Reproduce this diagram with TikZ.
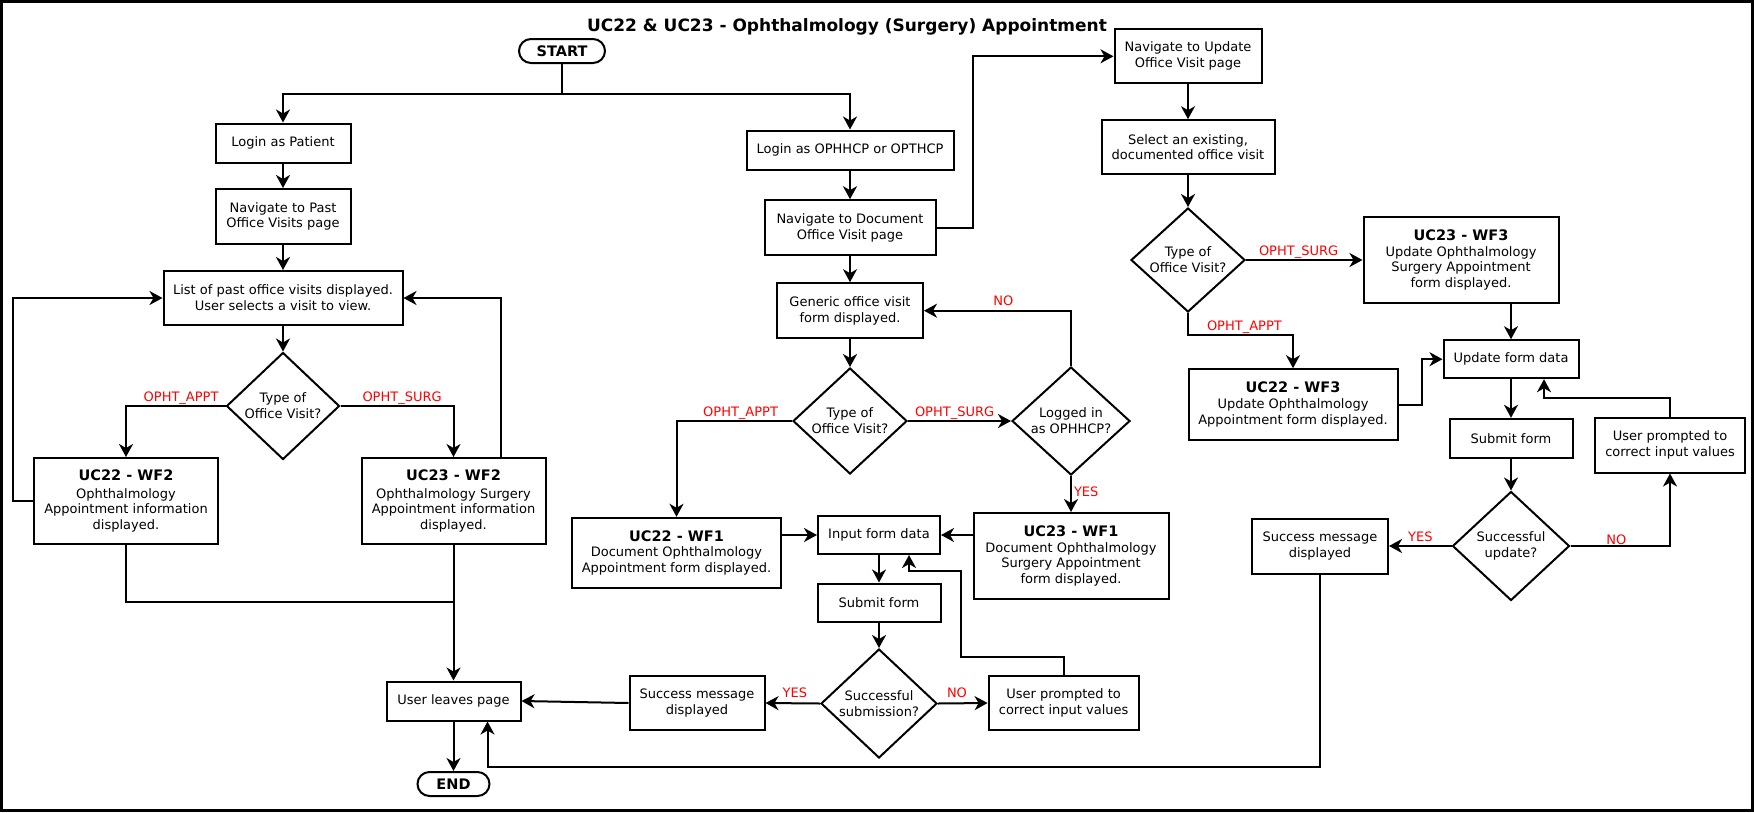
\documentclass[tikz,border=0pt]{standalone}
\usepackage{fontspec}
\setmainfont{DejaVu Sans}
\usetikzlibrary{arrows.meta}
\usetikzlibrary{shapes.geometric}
\newcommand{\wfhead}[1]{{\fontsize{14.5}{17}\selectfont\bfseries #1}}

\begin{document}
\begin{tikzpicture}[x=1pt,y=-1pt,->,>={Stealth[length=13pt,width=14pt,inset=4pt]},line width=2pt,
    font=\fontsize{13}{15.8}\selectfont,
    box node/.style={rectangle,draw,align=center,inner sep=0pt},
    choice node/.style={diamond,draw,align=center,inner sep=0pt,aspect=1},
    term node/.style={rectangle,draw,rounded corners=12pt,inner sep=0pt,minimum width=86pt,minimum height=24pt,font=\fontsize{14.5}{17}\selectfont\bfseries},
    lbl node/.style={inner sep=0pt,text=red,font=\fontsize{13}{14}\selectfont}]
    \useasboundingbox (0,0) rectangle (1754,812);
    \draw[-,line width=3pt] (1.5,1.5) rectangle (1752.5,810.5);
    \node (title) at (847,27) {\fontsize{17}{20}\selectfont\bfseries UC22 \& UC23 - Ophthalmology (Surgery) Appointment};

    \begin{scope}
     % patient side
     \node[term node] (start) at (562,51) {START};
     \node[box node,minimum width=135pt,minimum height=39pt] (lpat) at (283,143) {Login as Patient};
     \node[box node,minimum width=135pt,minimum height=55pt] (navp) at (283,216.5) {Navigate to Past\\Office Visits page};
     \node[box node,minimum width=239pt,minimum height=54pt] (list) at (283,298) {List of past office visits displayed.\\User selects a visit to view.};
     \node[choice node,minimum width=113pt,minimum height=107pt] (d1) at (283,406) {Type of\\Office Visit?};
     \node[box node,minimum width=184pt,minimum height=86pt] (wf22b) at (126,501) {\wfhead{UC22 - WF2}\\[2pt]Ophthalmology\\Appointment information\\displayed.};
     \node[box node,minimum width=184pt,minimum height=86pt] (wf23b) at (453.5,501) {\wfhead{UC23 - WF2}\\[2pt]Ophthalmology Surgery\\Appointment information\\displayed.};
     \node[box node,minimum width=134pt,minimum height=39pt] (leave) at (453.5,701) {User leaves page};
     \node[term node,minimum width=72pt] (stop) at (453.5,784) {END};

     % document side
     \node[box node,minimum width=207pt,minimum height=39pt] (lhcp) at (850,150) {Login as OPHHCP or OPTHCP};
     \node[box node,minimum width=171pt,minimum height=55pt] (navd) at (850,227.7) {Navigate to Document\\Office Visit page};
     \node[box node,minimum width=146pt,minimum height=55pt] (gen) at (850,310.7) {Generic office visit\\form displayed.};
     \node[choice node,minimum width=114pt,minimum height=106pt] (d2) at (850,421) {Type of\\Office Visit?};
     \node[choice node,minimum width=118pt,minimum height=108pt] (d3) at (1071,421) {Logged in\\as OPHHCP?};
     \node[box node,minimum width=209pt,minimum height=70pt] (wf22a) at (676.5,552.8) {\wfhead{UC22 - WF1}\\Document Ophthalmology\\Appointment form displayed.};
     \node[box node,minimum width=122pt,minimum height=38pt] (inp) at (879,535) {Input form data};
     \node[box node,minimum width=195pt,minimum height=86pt] (wf23a) at (1071,556) {\wfhead{UC23 - WF1}\\Document Ophthalmology\\Surgery Appointment\\form displayed.};
     \node[box node,minimum width=123pt,minimum height=38pt] (sub1) at (879,602.5) {Submit form};
     \node[choice node,minimum width=116pt,minimum height=109pt] (d4) at (879,703.5) {Successful\\submission?};
     \node[box node,minimum width=135pt,minimum height=54pt] (succ1) at (697,703) {Success message\\displayed};
     \node[box node,minimum width=150pt,minimum height=54pt] (corr1) at (1063.6,703) {User prompted to\\correct input values};

     % update side
     \node[box node,minimum width=147pt,minimum height=54pt] (navu) at (1188,56.3) {Navigate to Update\\Office Visit page};
     \node[box node,minimum width=173pt,minimum height=54pt] (sel) at (1188,147.2) {Select an existing,\\documented office visit};
     \node[choice node,minimum width=114pt,minimum height=104pt] (d5) at (1188,260) {Type of\\Office Visit?};
     \node[box node,minimum width=195pt,minimum height=86pt] (wf23c) at (1461,260) {\wfhead{UC23 - WF3}\\Update Ophthalmology\\Surgery Appointment\\form displayed.};
     \node[box node,minimum width=209pt,minimum height=71pt] (wf22c) at (1293,404.7) {\wfhead{UC22 - WF3}\\Update Ophthalmology\\Appointment form displayed.};
     \node[box node,minimum width=135pt,minimum height=38pt] (upd) at (1511,359.2) {Update form data};
     \node[box node,minimum width=123pt,minimum height=39pt] (sub2) at (1511,438.3) {Submit form};
     \node[choice node,minimum width=117pt,minimum height=109pt] (d6) at (1511,546) {Successful\\update?};
     \node[box node,minimum width=136pt,minimum height=55pt] (succ2) at (1320,546) {Success message\\displayed};
     \node[box node,minimum width=150pt,minimum height=55pt] (corr2) at (1670,445) {User prompted to\\correct input values};

     \draw (start.south) -- ++(0,30) -| (lpat);
     \draw (start.south) -- ++(0,30) -| (lhcp);
     \draw (lpat) -- (navp);
     \draw (navp) -- (list);
     \draw (list) -- (d1);
     \draw (d1.west) -| node[lbl node,pos=0,anchor=south east,xshift=-6pt] {OPHT\_APPT} (wf22b);
     \draw (d1.east) -| node[lbl node,pos=0,anchor=south west,xshift=21pt] {OPHT\_SURG} (wf23b);
     \draw (wf22b.west) -- ++(-20.5,0) |- (list);
     \draw ([xshift=-46pt]wf23b.north east) |- (list);
     \draw[-] (wf22b.south) -- ++(0,57) -| (wf23b.south);
     \draw (wf23b) -- (leave);
     \draw (leave) -- (stop);

     \draw (lhcp) -- (navd);
     \draw (navd) -- (gen);
     \draw (gen) -- (d2);
     \draw (navd.east) -- ++(36.5,0) |- (navu);
     \draw (d2.west) -| node[lbl node,pos=0,anchor=south east,xshift=-13pt] {OPHT\_APPT} (wf22a);
     \draw (d2.east) -- node[lbl node,pos=0,anchor=south west,xshift=6pt] {OPHT\_SURG} (d3.west);
     \draw (d3.south) -- node[lbl node,pos=0,anchor=north west,xshift=2pt,yshift=-10pt] {YES} (wf23a);
     \draw (d3.north) |- node[lbl node,pos=0.73,anchor=south,yshift=4pt] {NO} (gen);
     \draw (wf22a.east |- inp.west) -- (inp.west);
     \draw (wf23a.west |- inp.east) -- (inp.east);
     \draw (inp) -- (sub1);
     \draw (sub1) -- (d4);
     \draw (d4.west) -- node[lbl node,pos=0,anchor=south east,xshift=-12pt,yshift=5pt] {YES} (succ1.east);
     \draw (d4.east) -- node[lbl node,pos=0,anchor=south west,xshift=8pt,yshift=5pt] {NO} (corr1.west);
     \draw (succ1.west) -- (leave.east);
     \draw (corr1.north) -- ++(0,-18) -| ++(-103,-86) -| ([xshift=30pt]inp.south);

     \draw (navu) -- (sel);
     \draw (sel) -- (d5);
     \draw (d5.east) -- node[lbl node,pos=0,anchor=south west,xshift=12pt] {OPHT\_SURG} (wf23c.west);
     \draw (d5.south) -- ++(0,22) -| node[lbl node,pos=0,anchor=south west,xshift=18pt] {OPHT\_APPT} (wf22c);
     \draw (wf22c.east) -- ++(23,0) |- (upd);
     \draw (wf23c.south -| upd) -- (upd);
     \draw (upd) -- (sub2);
     \draw (sub2) -- (d6);
     \draw (d6.west) -- node[lbl node,pos=0,anchor=south east,xshift=-18pt,yshift=3pt] {YES} (succ2.east);
     \draw (d6.east) -| node[lbl node,pos=0.23,anchor=south] {NO} (corr2);
     \draw (corr2.north) -- ++(0,-18.7) -| ([xshift=33pt]upd.south);
     \draw (succ2.south) -- ++(0,192) -| ([xshift=34pt]leave.south);
    \end{scope}
  \end{tikzpicture}
\end{document}
